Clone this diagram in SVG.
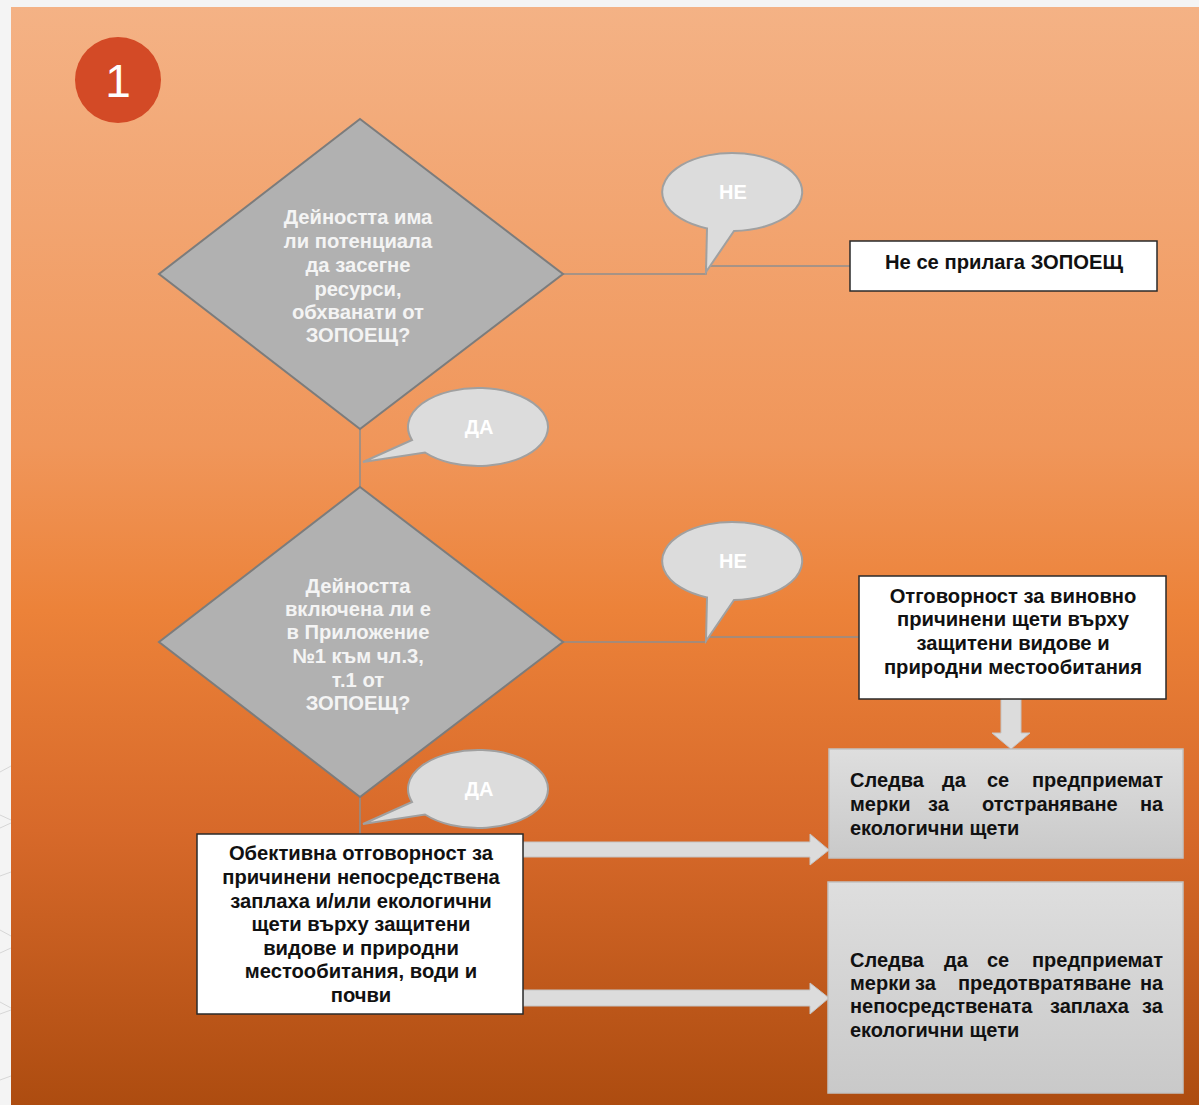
<svg xmlns="http://www.w3.org/2000/svg" width="1199" height="1105" viewBox="0 0 1199 1105">
<defs>
<linearGradient id="bg" x1="0" y1="0" x2="0" y2="1">
<stop offset="0" stop-color="#f4b285"/>
<stop offset="0.4" stop-color="#f0965a"/>
<stop offset="0.55" stop-color="#ec8239"/>
<stop offset="0.75" stop-color="#d7692a"/>
<stop offset="1" stop-color="#ad4c10"/>
</linearGradient>
<linearGradient id="gbox" x1="0" y1="0" x2="0" y2="1">
<stop offset="0" stop-color="#dedede"/>
<stop offset="1" stop-color="#c9c9c9"/>
</linearGradient>
<style>
.dia{fill:#b1b1b1;stroke:#7c7c7c;stroke-width:2}
.dt{font-family:"Liberation Sans",Arial,sans-serif;font-size:20.2px;font-weight:bold;fill:#f4f4f4;text-anchor:middle}
.call{fill:#dcdcdc;stroke:#a0a0a0;stroke-width:2}
.ct{font-family:"Liberation Sans",Arial,sans-serif;font-size:20px;font-weight:bold;fill:#ffffff;text-anchor:middle}
.wbox{fill:#ffffff;stroke:#2a2a2a;stroke-width:1.5}
.gb{fill:url(#gbox);stroke:#c2c2c2;stroke-width:1.5}
.bt{font-family:"Liberation Sans",Arial,sans-serif;font-size:20.2px;font-weight:bold;fill:#111111;text-anchor:middle}
.jt{font-family:"Liberation Sans",Arial,sans-serif;font-size:20px;font-weight:bold;fill:#111111}
.ln{fill:none;stroke:#8e8e8e;stroke-width:1.5}
.arr{fill:#dcdcdc;stroke:#c4c4c4;stroke-width:1}
</style>
</defs>
<rect x="0" y="0" width="1199" height="1105" fill="#f4f4f4"/>
<g stroke="#d6d6d6" stroke-width="1" fill="none">
<path d="M0,772 L11,766"/><path d="M0,815 L11,820"/><path d="M0,828 L11,823"/>
<path d="M0,876 L11,872"/><path d="M0,930 L11,936"/><path d="M0,953 L11,948"/>
<path d="M0,1002 L11,1008"/><path d="M0,1014 L11,1010"/><path d="M0,1080 L11,1076"/>
</g>
<rect x="11" y="7" width="1188" height="1098" fill="url(#bg)"/>

<g id="badge">
<circle cx="118" cy="80" r="43" fill="#d34a26"/>
<text x="118" y="97" font-family="Liberation Sans,Arial,sans-serif" font-size="46" fill="#ffffff" text-anchor="middle">1</text>
</g>

<g id="connectors">
<path class="ln" d="M563,274 H706 V266 H850"/>
<path class="ln" d="M360,429 V487"/>
<path class="ln" d="M563,642 H706 V637 H860"/>
<path class="ln" d="M360,797 V834"/>
<polygon class="arr" points="1001,699 1021,699 1021,733 1030,733 1011,749 992,733 1001,733"/>
<polygon class="arr" points="523,842 810,842 810,834 829,850 810,865 810,857 523,857"/>
<polygon class="arr" points="523,990 810,990 810,983 829,998 810,1014 810,1006 523,1006"/>
</g>

<g id="decision1">
<polygon class="dia" points="360,119 563,274 360,429 159,274"/>
<text class="dt"><tspan x="358" y="224">Дейността има</tspan><tspan x="358" y="248">ли потенциала</tspan><tspan x="358" y="272">да засегне</tspan><tspan x="358" y="296">ресурси,</tspan><tspan x="358" y="319">обхванати от</tspan><tspan x="358" y="342">ЗОПОЕЩ?</tspan></text>
</g>

<g id="decision2">
<polygon class="dia" points="360,487 563,642 360,797 159,642"/>
<text class="dt"><tspan x="358" y="593">Дейността</tspan><tspan x="358" y="616">включена ли е</tspan><tspan x="358" y="639">в Приложение</tspan><tspan x="358" y="663">№1 към чл.3,</tspan><tspan x="358" y="687">т.1 от</tspan><tspan x="358" y="710">ЗОПОЕЩ?</tspan></text>
</g>

<g id="no1">
<path class="call" d="M707,228.4 A70 39 0 1 1 734,231 L706,272 Z"/>
<text class="ct" x="733" y="199">НЕ</text>
</g>

<g id="yes1">
<path class="call" d="M425,452.5 A70 39 0 1 0 412,440 L363,462 Z"/>
<text class="ct" x="479" y="434">ДА</text>
</g>

<g id="no2">
<path class="call" d="M707,597.4 A70 39 0 1 1 734,600 L706,641 Z"/>
<text class="ct" x="733" y="568">НЕ</text>
</g>

<g id="yes2">
<path class="call" d="M425,814.5 A70 39 0 1 0 412,802 L363,824 Z"/>
<text class="ct" x="479" y="796">ДА</text>
</g>

<g id="notapply">
<rect class="wbox" x="850" y="241" width="307" height="50"/>
<text class="bt" x="1004" y="269">Не се прилага ЗОПОЕЩ</text>
</g>

<g id="fault">
<rect class="wbox" x="859" y="576" width="307" height="123"/>
<text class="bt"><tspan x="1013" y="603">Отговорност за виновно</tspan><tspan x="1013" y="626">причинени щети върху</tspan><tspan x="1013" y="650">защитени видове и</tspan><tspan x="1013" y="674">природни местообитания</tspan></text>
</g>

<g id="strict">
<rect class="wbox" x="197" y="834" width="326" height="180"/>
<text class="bt"><tspan x="361" y="860">Обективна отговорност за</tspan><tspan x="361" y="884">причинени непосредствена</tspan><tspan x="361" y="908">заплаха и/или екологични</tspan><tspan x="361" y="931">щети върху защитени</tspan><tspan x="361" y="955">видове и природни</tspan><tspan x="361" y="978">местообитания, води и</tspan><tspan x="361" y="1002">почви</tspan></text>
</g>

<g id="remedy">
<rect class="gb" x="829" y="749" width="354" height="109"/>
<text class="jt"><tspan x="850" y="787">Следва</tspan><tspan x="942" y="787">да</tspan><tspan x="987" y="787">се</tspan><tspan x="1032" y="787">предприемат</tspan></text>
<text class="jt"><tspan x="850" y="811">мерки</tspan><tspan x="928" y="811">за</tspan><tspan x="982" y="811">отстраняване</tspan><tspan x="1140" y="811">на</tspan></text>
<text class="jt" x="850" y="835">екологични щети</text>
</g>

<g id="prevent">
<rect class="gb" x="828" y="882" width="355" height="211"/>
<text class="jt"><tspan x="850" y="967">Следва</tspan><tspan x="944" y="967">да</tspan><tspan x="987" y="967">се</tspan><tspan x="1032" y="967">предприемат</tspan></text>
<text class="jt"><tspan x="850" y="990">мерки</tspan><tspan x="915" y="990">за</tspan><tspan x="958" y="990">предотвратяване</tspan><tspan x="1140" y="990">на</tspan></text>
<text class="jt"><tspan x="850" y="1013">непосредствената</tspan><tspan x="1050" y="1013">заплаха</tspan><tspan x="1142" y="1013">за</tspan></text>
<text class="jt" x="850" y="1037">екологични щети</text>
</g>
</svg>
